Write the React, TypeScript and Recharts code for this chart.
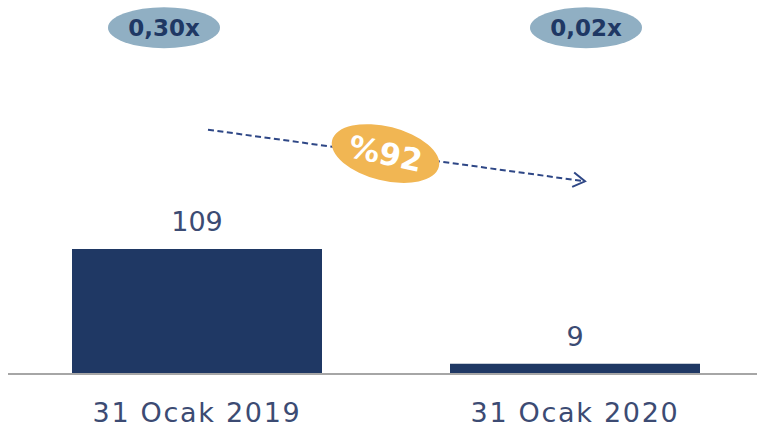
import { BarChart, Bar, XAxis, YAxis, LabelList, ReferenceDot, ReferenceLine } from 'recharts';

const categories = ['31 Ocak 2019', '31 Ocak 2020'];
const debtValues = [109, 9];
const ratioLabels = ['0,30x', '0,02x'];
const changeLabel = '%92';
// y levels (data units) for the annotations above the bars
const ratioLevel = 302;
const arrowFrom = 213;
const arrowTo = 168;

const data = categories.map((name, i) => ({ name, value: debtValues[i] }));

const NAVY = '#1F3864';
const TEXT = '#3C4B73';
const FONT = '"DejaVu Sans", sans-serif';

// oval badge with the leverage ratio
const ratioBadge = (label: string, dx: number) => (props: any) => {
  const { cx, cy } = props;
  const x = cx + dx;
  return (
    <g>
      <ellipse cx={x} cy={cy} rx={56} ry={20.5} fill="#90AFC3" />
      <text
        x={x}
        y={cy}
        dy={8}
        textAnchor="middle"
        fill={NAVY}
        fontSize={23}
        fontWeight={700}
        fontFamily={FONT}
      >
        {label}
      </text>
    </g>
  );
};

// dashed trend arrow with the change badge in the middle
const renderArrow = (props: any) => {
  const x1 = Number(props.x1) + 11;
  const y1 = Number(props.y1);
  const x2 = Number(props.x2) + 10;
  const y2 = Number(props.y2);
  const ang = Math.atan2(y2 - y1, x2 - x1);
  const head = 14;
  const a1 = ang + Math.PI - 0.55;
  const a2 = ang + Math.PI + 0.55;
  const mx = (x1 + x2) / 2 - 11;
  const my = (y1 + y2) / 2 - 2;
  return (
    <g>
      <line x1={x1} y1={y1} x2={x2} y2={y2} stroke="#2E4786" strokeWidth={2} strokeDasharray="6 3.5" />
      <polyline
        points={`${x2 + head * Math.cos(a1)},${y2 + head * Math.sin(a1)} ${x2},${y2} ${x2 + head * Math.cos(a2)},${y2 + head * Math.sin(a2)}`}
        fill="none"
        stroke="#2E4786"
        strokeWidth={2}
      />
      <ellipse cx={mx} cy={my} rx={55} ry={27} fill="#F1B653" transform={`rotate(14 ${mx} ${my})`} />
      <text
        x={mx}
        y={my}
        dy={11}
        textAnchor="middle"
        fill="#FFFFFF"
        fontSize={31}
        fontWeight={600}
        fontFamily={FONT}
        transform={`rotate(12 ${mx} ${my})`}
      >
        {changeLabel}
      </text>
    </g>
  );
};

export default function App() {
  return (
    <div style={{ position: 'absolute', left: 0, top: 0, width: 757, height: 434, overflow: 'hidden', background: '#fff' }}>
      <BarChart width={764} height={434} data={data} margin={{ top: 7, right: 0, left: 8, bottom: 0 }}>
        <XAxis
          dataKey="name"
          height={60}
          tickLine={false}
          tickSize={0}
          tickMargin={29}
          axisLine={{ stroke: '#A6A6A6', strokeWidth: 2 }}
          tick={{ fill: TEXT, fontSize: 27, fontFamily: FONT, letterSpacing: 1.7 }}
        />
        <YAxis hide domain={[0, 320]} />
        <Bar dataKey="value" fill={NAVY} barSize={250} isAnimationActive={false}>
          <LabelList
            dataKey="value"
            position="top"
            offset={18}
            fill={TEXT}
            fontSize={27}
            fontFamily={FONT}
          />
        </Bar>
        <ReferenceDot x={categories[0]} y={ratioLevel} ifOverflow="visible" shape={ratioBadge(ratioLabels[0], -33)} />
        <ReferenceDot x={categories[1]} y={ratioLevel} ifOverflow="visible" shape={ratioBadge(ratioLabels[1], 11)} />
        <ReferenceLine
          segment={[
            { x: categories[0], y: arrowFrom },
            { x: categories[1], y: arrowTo }
          ]}
          ifOverflow="visible"
          shape={renderArrow}
        />
      </BarChart>
    </div>
  );
}
